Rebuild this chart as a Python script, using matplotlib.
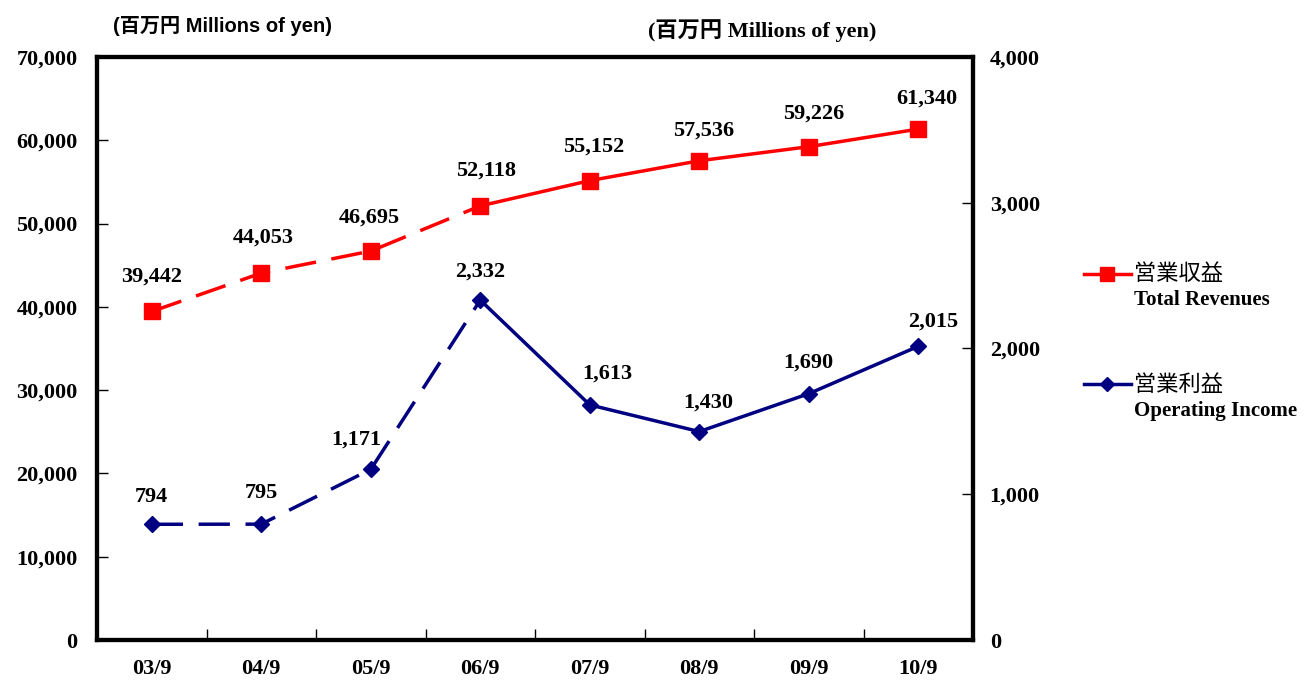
import matplotlib
matplotlib.use("Agg")
import matplotlib.pyplot as plt
from matplotlib.lines import Line2D

periods = ["03/9", "04/9", "05/9", "06/9", "07/9", "08/9", "09/9", "10/9"]
revenues = [39442, 44053, 46695, 52118, 55152, 57536, 59226, 61340]
op_income = [794, 795, 1171, 2332, 1613, 1430, 1690, 2015]
split = 3  # dashed up to 06/9, solid after

# label offsets from the marker, in pixels (dx, dy up)
rev_offsets = [(0, 35), (2, 35), (-1, 33), (6, 35), (4, 34), (4, 30), (5, 33), (9, 30)]
inc_offsets = [(0, 27), (0, 31), (-15, 30), (0, 28), (18, 31), (9, 29), (0, 31), (15, 25)]

red = "#ff0000"
navy = "#000080"
serif = ["Liberation Serif", "Noto Sans CJK JP"]
px = 72 / 100.0

fig = plt.figure(figsize=(13.04, 6.86), dpi=100)
ax = fig.add_axes([0.0744, 0.067, 0.6718, 0.850])
ax2 = ax.twinx()

x = list(range(len(periods)))
dash = (0, (9, 4.5))

ax.plot(x[:split + 1], revenues[:split + 1], color=red, lw=2.5, ls=dash)
ax.plot(x[split:], revenues[split:], color=red, lw=2.5)
ax.plot(x, revenues, ls="none", marker="s", ms=12, color=red)

ax2.plot(x[:split + 1], op_income[:split + 1], color=navy, lw=2.5, ls=dash)
ax2.plot(x[split:], op_income[split:], color=navy, lw=2.5)
ax2.plot(x, op_income, ls="none", marker="D", ms=8.5, color=navy)

for xi, v, (dx, dy) in zip(x, revenues, rev_offsets):
    ax.annotate(f"{v:,}", (xi, v), xytext=(dx * px, dy * px), textcoords="offset points",
                ha="center", va="center", fontsize=16, fontweight="bold", family=serif)
for xi, v, (dx, dy) in zip(x, op_income, inc_offsets):
    ax2.annotate(f"{v:,}", (xi, v), xytext=(dx * px, dy * px), textcoords="offset points",
                 ha="center", va="center", fontsize=16, fontweight="bold", family=serif)

ax.set_xlim(-0.5, len(periods) - 0.5)
ax.set_ylim(0, 70000)
ax2.set_ylim(0, 4000)
ax.set_yticks(range(0, 70001, 10000))
ax2.set_yticks(range(0, 4001, 1000))
ax.set_yticklabels([f"{v:,}" for v in range(0, 70001, 10000)])
ax2.set_yticklabels([f"{v:,}" for v in range(0, 4001, 1000)])

ax.set_xticks([i + 0.5 for i in x[:-1]])
ax.set_xticklabels([])
ax.set_xticks(x, minor=True)
ax.set_xticklabels(periods, minor=True)
ax.tick_params(axis="x", which="major", direction="in", length=8, width=1)
ax.tick_params(axis="x", which="minor", length=0, pad=14)
ax.tick_params(axis="y", direction="in", length=8, width=1, pad=14)
ax2.tick_params(axis="y", direction="in", length=8, width=1, pad=12)

for a in (ax, ax2):
    for lab in a.get_xticklabels(which="both") + a.get_yticklabels():
        lab.set_fontfamily(serif)
        lab.set_fontweight("bold")
        lab.set_fontsize(16)
    for s in a.spines.values():
        s.set_linewidth(3)

fig.text(0.087, 0.962, "(百万円 Millions of yen)", fontsize=14.5, fontweight="bold",
         family=["Liberation Sans", "Noto Sans CJK JP"], ha="left", va="center")
fig.text(0.497, 0.955, "(百万円 Millions of yen)", fontsize=16, fontweight="bold",
         family=serif, ha="left", va="center")

# legend
leg_items = [(red, "s", 10, "営業収益", "Total Revenues", 0.601),
             (navy, "D", 7, "営業利益", "Operating Income", 0.440)]
for color, mk, ms, jp, en, yy in leg_items:
    fig.add_artist(Line2D([0.831, 0.867], [yy, yy], color=color, lw=2.5,
                          transform=fig.transFigure))
    fig.add_artist(Line2D([0.849], [yy], color=color, marker=mk, ms=ms,
                          transform=fig.transFigure))
    fig.text(0.870, yy, jp, fontsize=16, family=["Noto Sans CJK JP"], va="center")
    fig.text(0.870, yy - 0.039, en, fontsize=15, fontweight="bold",
             family=serif, va="center")

fig.savefig("out.png", dpi=100)
